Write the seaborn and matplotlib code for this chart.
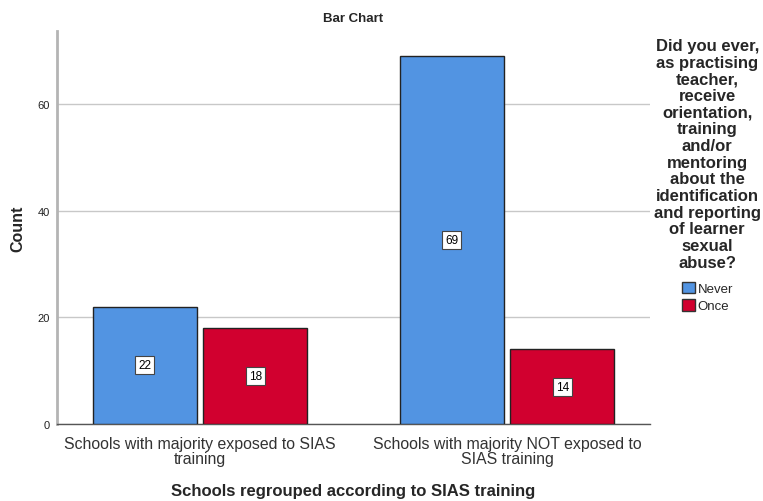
import matplotlib
matplotlib.use("Agg")
import matplotlib.pyplot as plt
import pandas as pd
import seaborn as sns

groups = ["Schools with majority exposed to SIAS\ntraining",
          "Schools with majority NOT exposed to\nSIAS training"]
responses = ["Never", "Once"]
never_counts = [22, 69]
once_counts = [18, 14]
colors = {"Never": "#5294E2", "Once": "#D1002F"}
legend_title = ("Did you ever,\nas practising\nteacher,\nreceive\norientation,\ntraining\nand/or\n"
                "mentoring\nabout the\nidentification\nand reporting\nof learner\nsexual\nabuse?")

df = pd.DataFrame({
    "group": groups * 2,
    "response": ["Never"] * 2 + ["Once"] * 2,
    "count": never_counts + once_counts,
})

sns.set_style("white")
plt.rcParams["font.family"] = ["Liberation Sans", "DejaVu Sans"]

fig = plt.figure(figsize=(7.63, 5.02), dpi=100)
ax = fig.add_axes([0.0747, 0.1534, 0.7773, 0.7826])

sns.barplot(data=df, x="group", y="count", hue="response", order=groups,
            hue_order=responses, palette=colors, saturation=1, width=0.72, gap=0.06,
            edgecolor="#222222", linewidth=1.0, ax=ax, zorder=3)

ax.set_xlim(-0.466, 1.466)
ax.set_ylim(0, 73.7)
ax.set_yticks([0, 20, 40, 60])
ax.yaxis.grid(True, color="#c8c8c8", linewidth=1.0, zorder=0)
ax.set_axisbelow(True)

for sp in ["top", "right"]:
    ax.spines[sp].set_visible(False)
ax.spines["left"].set_color("#b4b4b4")
ax.spines["left"].set_linewidth(2.0)
ax.spines["bottom"].set_color("#555555")
ax.spines["bottom"].set_linewidth(1.0)

ax.tick_params(axis="y", labelsize=8, length=0, pad=5, labelcolor="#222222")
ax.tick_params(axis="x", labelsize=11.4, length=0, pad=9, labelcolor="#333333")
for t in ax.get_xticklabels():
    t.set_linespacing(1.0)

for cont in ax.containers:
    for bar in cont:
        h = bar.get_height()
        ax.text(bar.get_x() + bar.get_width() / 2, h / 2, f"{int(h)}",
                ha="center", va="center", fontsize=8.5, color="black", zorder=5,
                bbox=dict(boxstyle="square,pad=0.25", fc="white", ec="#444444", lw=0.8))

ax.set_title("Bar Chart", fontsize=9.5, fontweight="bold", pad=7)
ax.set_ylabel("Count", fontsize=11.5, fontweight="bold", labelpad=9)
ax.set_xlabel("Schools regrouped according to SIAS training", fontsize=12,
              fontweight="bold", labelpad=12)

# legend title as separate centered text, entries below it
fig.text(0.927, 1 - 39 / 502, legend_title, ha="center", va="top",
         fontsize=12, fontweight="bold", linespacing=1.14, multialignment="center")

handles, labels = ax.get_legend_handles_labels()
ax.get_legend().remove()
leg = fig.legend(handles, labels, loc="upper left",
                 bbox_to_anchor=(682 / 763, 1 - 283 / 502), frameon=False, fontsize=9.5,
                 handlelength=0.95, handleheight=0.95, handletextpad=0.25,
                 labelspacing=0.3, borderaxespad=0, borderpad=0)
for h in leg.legend_handles:
    h.set_edgecolor("#333333")

fig.savefig("out.png", dpi=100)
